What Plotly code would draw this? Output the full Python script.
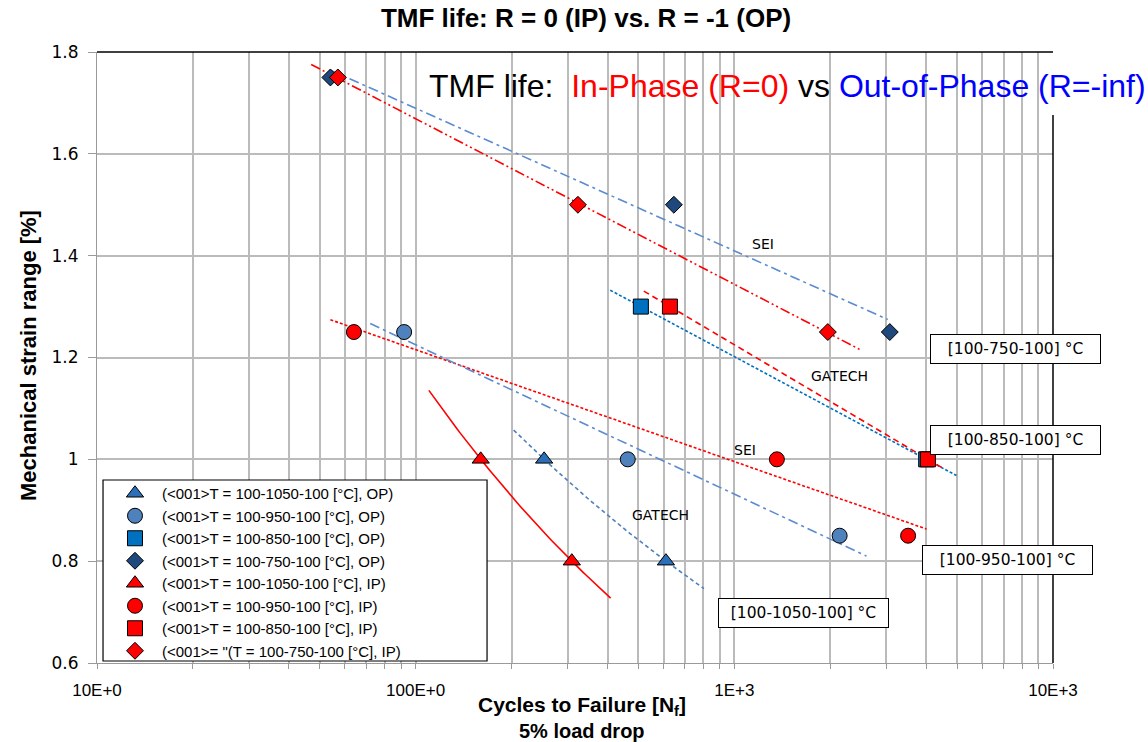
import numpy as np
import plotly.graph_objects as go

# ---- test results: cycles to failure N_f vs. mechanical strain range [%] ----
op1050_n = [253, 610]
op1050_e = [1.0, 0.8]
op950_n = [92, 463, 2140]
op950_e = [1.25, 1.0, 0.85]
op850_n = [509, 4000]
op850_e = [1.3, 1.0]
op750_n = [54, 646, 3075]
op750_e = [1.75, 1.5, 1.25]
ip1050_n = [160, 309]
ip1050_e = [1.0, 0.8]
ip950_n = [64, 1360, 3510]
ip950_e = [1.25, 1.0, 0.85]
ip850_n = [628, 4050]
ip850_e = [1.3, 1.0]
ip750_n = [57, 323, 1965]
ip750_e = [1.75, 1.5, 1.25]

# N_f span over which each trend line is drawn
op1050_fit_span = [203, 803]
op950_fit_span = [72, 2600]
op850_fit_span = [408, 4980]
op750_fit_span = [54, 3030]
ip1050_fit_span = [110, 409]
ip950_fit_span = [54, 4010]
ip850_fit_span = [520, 4520]
ip750_fit_span = [47, 2480]

# axis ticks
x_major_ticks = [10, 100, 1000, 10000]
x_major_labels = ["10E+0", "100E+0", "1E+3", "10E+3"]
y_ticks = [0.6, 0.8, 1.0, 1.2, 1.4, 1.6, 1.8]
y_labels = ["0.6", "0.8", "1", "1.2", "1.4", "1.6", "1.8"]

RED = "#ff0000"
OP_TRI = "#2a6fb8"
OP_CIR = "#4f81bd"
OP_SQR = "#0070c0"
OP_DIA = "#1f497d"
LINE_BLUE = "#5b8bd0"


def log_fit(n, e, span, pts=60):
    """Least-squares fit e = a + b*log10(N) drawn over span."""
    b, a = np.polyfit(np.log10(n), e, 1)
    xs = np.logspace(np.log10(span[0]), np.log10(span[1]), pts)
    return xs, a + b * np.log10(xs)


def power_fit(n, e, span, pts=60):
    """Least-squares fit e = a * N**b drawn over span."""
    b, la = np.polyfit(np.log10(n), np.log10(e), 1)
    xs = np.logspace(np.log10(span[0]), np.log10(span[1]), pts)
    return xs, 10 ** (la + b * np.log10(xs))


fig = go.Figure()

# ---- trend lines ----
trends = [
    (log_fit(op750_n, op750_e, op750_fit_span), LINE_BLUE, "10px,4px,3px,4px"),
    (log_fit(ip750_n, ip750_e, ip750_fit_span), RED, "10px,3px,2px,3px,2px,3px"),
    (log_fit(op850_n, op850_e, op850_fit_span), OP_SQR, "3px,2px"),
    (log_fit(ip850_n, ip850_e, ip850_fit_span), RED, "6px,4px"),
    (log_fit(ip950_n, ip950_e, ip950_fit_span), RED, "3px,2px"),
    (log_fit(op950_n, op950_e, op950_fit_span), LINE_BLUE, "10px,4px,3px,4px"),
    (power_fit(ip1050_n, ip1050_e, ip1050_fit_span), RED, "solid"),
    (power_fit(op1050_n, op1050_e, op1050_fit_span), OP_CIR, "4px,3px"),
]
for (xs, ys), col, dash in trends:
    fig.add_trace(go.Scatter(
        x=xs, y=ys, mode="lines", showlegend=False, hoverinfo="skip",
        line=dict(color=col, width=1.6, dash=dash),
    ))

# ---- measured points ----
series = [
    ("(<001>T = 100-1050-100 [°C], OP)", op1050_n, op1050_e, "triangle-up", OP_TRI, 15),
    ("(<001>T = 100-950-100 [°C], OP)", op950_n, op950_e, "circle", OP_CIR, 15),
    ("(<001>T = 100-850-100 [°C], OP)", op850_n, op850_e, "square", OP_SQR, 15),
    ("(<001>T = 100-750-100 [°C], OP)", op750_n, op750_e, "diamond", OP_DIA, 13),
    ("(<001>T = 100-1050-100 [°C], IP)", ip1050_n, ip1050_e, "triangle-up", RED, 15),
    ("(<001>T = 100-950-100 [°C], IP)", ip950_n, ip950_e, "circle", RED, 15),
    ("(<001>T = 100-850-100 [°C], IP)", ip850_n, ip850_e, "square", RED, 15),
    ("(<001>= \"(T = 100-750-100 [°C], IP)", ip750_n, ip750_e, "diamond", RED, 13),
]
for name, n, e, sym, col, size in series:
    fig.add_trace(go.Scatter(
        x=n, y=e, mode="markers", name=name,
        marker=dict(symbol=sym, color=col, size=size,
                    line=dict(color="black", width=1)),
    ))

# ---- x ticks: every integer multiple inside each decade, labels on decades ----
x_tickvals, x_ticktext = [], []
for dec in x_major_ticks[:-1]:
    for k in range(1, 10):
        x_tickvals.append(dec * k)
        x_ticktext.append(x_major_labels[x_major_ticks.index(dec)] if k == 1 else "")
x_tickvals.append(x_major_ticks[-1])
x_ticktext.append(x_major_labels[-1])

GRID = "#bbbbbb"
AXIS = "#9a9a9a"

fig.update_xaxes(
    type="log", range=[1, 4],
    tickvals=x_tickvals, ticktext=x_ticktext, tickangle=0, automargin=False,
    showgrid=True, gridcolor=GRID, gridwidth=1.6,
    showline=True, linecolor=AXIS, linewidth=1.2,
    ticks="outside", ticklen=5, tickcolor=AXIS,
    ticklabelstandoff=6,
    tickfont=dict(family="Liberation Sans", size=17, color="black"),
    zeroline=False,
)
fig.update_yaxes(
    range=[0.6, 1.8], tickvals=y_ticks, ticktext=y_labels, automargin=False,
    showgrid=True, gridcolor=GRID, gridwidth=1.6,
    showline=True, linecolor=AXIS, linewidth=1.2,
    ticks="outside", ticklen=8, tickcolor=AXIS,
    ticklabelstandoff=6,
    tickfont=dict(family="DejaVu Sans", size=17, color="black"),
    zeroline=False,
)

# white panel behind the heading inside the plot, border lines, legend frame
fig.add_shape(type="rect", xref="paper", yref="paper", x0=0.336, x1=1.0,
              y0=0.897, y1=0.995, fillcolor="white", line=dict(width=0),
              layer="between")
fig.add_shape(type="line", xref="paper", yref="paper", x0=0, x1=1, y0=1, y1=1,
              line=dict(color="black", width=1.5))
fig.add_shape(type="line", xref="paper", yref="paper", x0=1, x1=1, y0=0, y1=0.897,
              line=dict(color="black", width=1.5))
fig.add_shape(type="rect", xref="paper", yref="paper", x0=0.0063, x1=0.408,
              y0=0.0033, y1=0.2995, fillcolor="white",
              line=dict(color="black", width=1.2), layer="above")

annotations = [
    dict(text="TMF life:\u00a0\u00a0<span style=\"color:#ff0000\">In-Phase (R=0)</span> vs "
              "<span style=\"color:#0000ff\">Out-of-Phase (R=-inf)</span>",
         xref="paper", yref="paper", x=0.3452, y=0.944, xanchor="left", yanchor="middle",
         showarrow=False, font=dict(family="Liberation Sans", size=32, color="black")),
    dict(text="<b>Cycles to Failure [N<sub>f</sub>]</b>", xref="paper", yref="paper",
         x=0.507, y=-0.0704, xanchor="center", yanchor="middle", showarrow=False,
         font=dict(family="Liberation Sans", size=21, color="black")),
    dict(text="<b>5% load drop</b>", xref="paper", yref="paper",
         x=0.507, y=-0.1105, xanchor="center", yanchor="middle", showarrow=False,
         font=dict(family="Liberation Sans", size=20, color="black")),
    dict(text="<b>Mechanical strain range [%]</b>", xref="paper", yref="paper",
         x=-0.0722, y=0.504, xanchor="center", yanchor="middle", textangle=-90,
         showarrow=False, font=dict(family="Liberation Sans", size=22, color="black")),
]

# range labels in framed boxes
for txt, xp, yp in [("[100-750-100] °C", 0.9603, 0.5139),
                    ("[100-850-100] °C", 0.9603, 0.365),
                    ("[100-950-100] °C", 0.9519, 0.1686),
                    ("[100-1050-100] °C", 0.7385, 0.0818)]:
    annotations.append(dict(
        text=txt, xref="paper", yref="paper", x=xp, y=yp, xanchor="center",
        yanchor="middle", showarrow=False, width=163, height=22, borderpad=3,
        bordercolor="black", borderwidth=1, bgcolor="white",
        font=dict(family="DejaVu Sans", size=15.5, color="black")))

# source labels next to the fits
for txt, nx, ey in [("SEI", 1229, 1.4235), ("GATECH", 2145, 1.163),
                    ("SEI", 1080, 1.0176), ("GATECH", 585, 0.890)]:
    annotations.append(dict(
        text=txt, x=np.log10(nx), y=ey, xref="x", yref="y", showarrow=False,
        font=dict(family="DejaVu Sans", size=14, color="black")))

fig.update_layout(
    width=1148, height=742,
    margin=dict(l=97, r=95, t=52, b=79),
    paper_bgcolor="white", plot_bgcolor="white",
    title=dict(text="<b>TMF life: R = 0 (IP) vs. R = -1 (OP)</b>",
               x=0.5105, xref="container", xanchor="center",
               y=0.9757, yref="container", yanchor="middle",
               font=dict(family="Liberation Sans", size=26, color="black")),
    legend=dict(x=0.0115, y=0.3044, xanchor="left", yanchor="top",
                bgcolor="rgba(0,0,0,0)", borderwidth=0, itemwidth=44,
                font=dict(family="Liberation Sans", size=15, color="black"),
                tracegroupgap=0),
    annotations=annotations,
    showlegend=True,
)

fig.write_html("out.html")
